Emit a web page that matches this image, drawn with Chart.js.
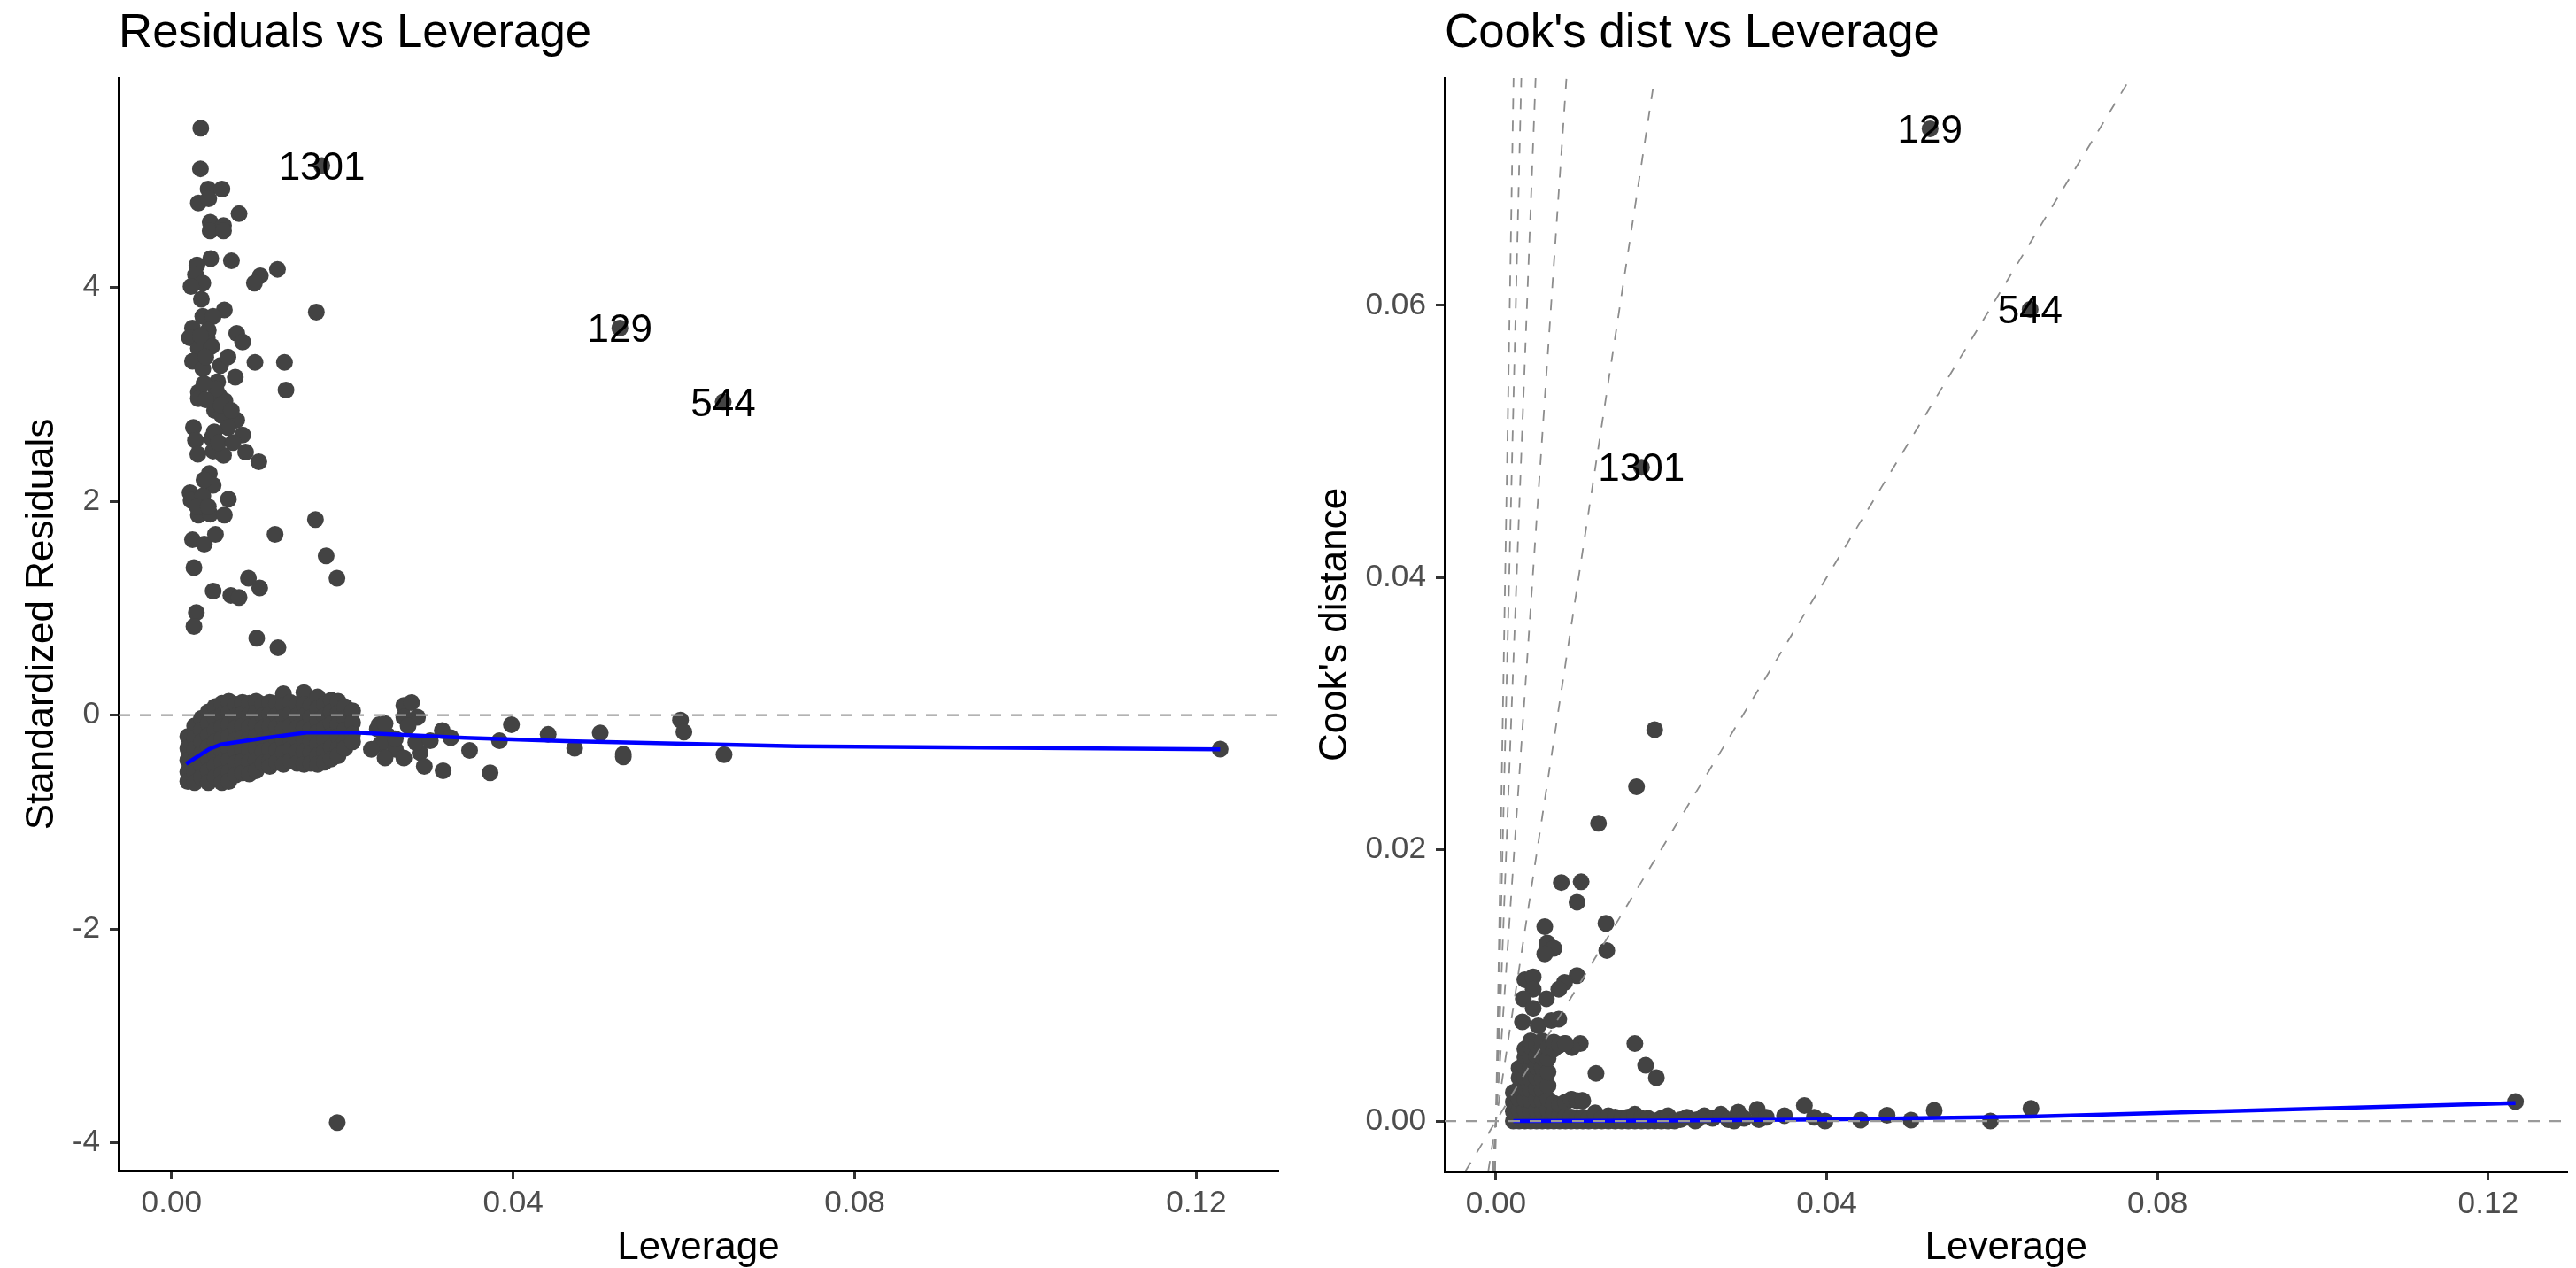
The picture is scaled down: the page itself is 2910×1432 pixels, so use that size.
<!DOCTYPE html>
<html>
<head>
<meta charset="utf-8">
<script src="https://cdn.jsdelivr.net/npm/chart.js@4.4.1/dist/chart.umd.min.js"></script>
<style>
html,body{margin:0;padding:0;background:#ffffff;overflow:hidden;}
#wrap{position:relative;width:2910px;height:1432px;background:#ffffff;}
.panel{position:absolute;top:0;width:1455px;height:1432px;}
#p1{left:0;}
#p2{left:1455px;}
canvas{display:block;}
</style>
</head>
<body>
<div id="wrap">
  <div class="panel" id="p1"><canvas id="c1" width="1455" height="1432"></canvas></div>
  <div class="panel" id="p2"><canvas id="c2" width="1455" height="1432"></canvas></div>
</div>
<script>
// ---------------- axis ranges & ticks ----------------
const levRange = [-0.0062, 0.1296];
const resRange = [-4.26, 5.96];
const cookRange = [-0.00371, 0.07674];
const levTicks = [0, 0.04, 0.08, 0.12];
const levTickLabels = ['0.00', '0.04', '0.08', '0.12'];
const resTicks = [-4, -2, 0, 2, 4];
const resTickLabels = ['-4', '-2', '0', '2', '4'];
const cookTicks = [0, 0.02, 0.04, 0.06];
const cookTickLabels = ['0.00', '0.02', '0.04', '0.06'];

// ---------------- labelled observations ----------------
const labelIds = ['1301', '129', '544'];
const labelLev = [0.0176, 0.0525, 0.0646];
const labelRes = [5.14, 3.62, 2.93];
const labelCook = [0.0481, 0.0730, 0.0597];

// ---------------- left panel: standardized residuals ----------------
const resHigh = [
 [0.00342,5.49],[0.00338,5.11],[0.00428,4.92],[0.0059,4.92],[0.00314,4.79],[0.00435,4.83],[0.0079,4.69],
 [0.00452,4.61],[0.00452,4.53],[0.00608,4.58],[0.00608,4.53],[0.00459,4.27],[0.00701,4.25],[0.00297,4.21],
 [0.0028,4.12],[0.00366,4.04],[0.00228,4.01],[0.01039,4.11],[0.0097,4.04],[0.0124,4.17],[0.00349,3.89],
 [0.01695,3.77],[0.00618,3.79],[0.00366,3.73],[0.00487,3.73],[0.00245,3.62],[0.0021,3.53],[0.00417,3.53],
 [0.00763,3.57],[0.00832,3.49],[0.00314,3.43],[0.00469,3.45],[0.00245,3.31],[0.00366,3.24],[0.00573,3.27],
 [0.0066,3.35],[0.00977,3.30],[0.01322,3.30],[0.00746,3.16],[0.00539,3.12],[0.00314,3.02],[0.00314,2.96],
 [0.0134,3.04],[0.00556,2.99],[0.00625,2.94],[0.00504,2.85],[0.0059,2.80],[0.00763,2.76],[0.0066,2.69],
 [0.00256,2.69],[0.00832,2.62],[0.0028,2.57],[0.00469,2.59],[0.00308,2.44],[0.00487,2.47],[0.00608,2.43],
 [0.00867,2.46],[0.01022,2.37],[0.00442,2.26],[0.00487,2.15],[0.00217,2.08],[0.00228,2.01],[0.00366,2.05],
 [0.00666,2.02],[0.00314,1.87],[0.00452,1.88],[0.00618,1.87],[0.01685,1.83],[0.00245,1.64],[0.00383,1.60],
 [0.00514,1.69],[0.01212,1.69],[0.0181,1.49],[0.01937,1.28],[0.00262,1.38],[0.00487,1.16],[0.00694,1.12],
 [0.0079,1.10],[0.009,1.28],[0.01032,1.19],[0.0029,0.96],[0.00262,0.83],[0.00997,0.72],[0.01246,0.63],
 [0.0040,3.35],[0.0052,3.05],[0.0058,2.90],[0.0050,2.65],[0.0043,3.60],[0.0034,3.55],[0.0055,2.55],
 [0.0072,2.55],[0.0070,2.85],[0.0040,2.95],[0.0038,2.20],[0.0030,1.95],[0.0043,1.95],[0.0038,3.10]
];
const blobLev = [0.0019,0.0027,0.0035,0.0043,0.0051,0.0059,0.0067,0.0075,0.0083,0.0091,0.0099,0.0107,0.0115,
                 0.0123,0.0131,0.0139,0.0147,0.0155,0.0163,0.0171,0.0179,0.0187,0.0195,0.0203,0.0212];
const blobRes = [
 [-0.20,-0.31,-0.42,-0.53,-0.62],
 [-0.10,-0.21,-0.32,-0.43,-0.54,-0.63],
 [-0.03,-0.14,-0.25,-0.36,-0.47,-0.58],
 [0.03,-0.08,-0.19,-0.30,-0.41,-0.52,-0.63],
 [0.08,-0.03,-0.14,-0.25,-0.36,-0.47,-0.58],
 [0.11,0.00,-0.11,-0.22,-0.33,-0.44,-0.55,-0.63],
 [0.13,0.02,-0.09,-0.20,-0.31,-0.42,-0.53,-0.62],
 [0.10,-0.01,-0.12,-0.23,-0.34,-0.45,-0.56],
 [0.12,0.01,-0.10,-0.21,-0.32,-0.43,-0.54],
 [0.11,0.00,-0.11,-0.22,-0.33,-0.44,-0.55],
 [0.13,0.02,-0.09,-0.20,-0.31,-0.42,-0.52],
 [0.10,-0.01,-0.12,-0.23,-0.34,-0.45],
 [0.12,0.01,-0.10,-0.21,-0.32,-0.43,-0.48],
 [0.11,0.00,-0.11,-0.22,-0.33,-0.44],
 [0.20,0.09,-0.02,-0.13,-0.24,-0.35,-0.46],
 [0.12,0.01,-0.10,-0.21,-0.32,-0.43],
 [0.10,-0.01,-0.12,-0.23,-0.34,-0.45],
 [0.21,0.10,-0.01,-0.12,-0.23,-0.34,-0.46],
 [0.09,-0.02,-0.13,-0.24,-0.35,-0.45],
 [0.17,0.06,-0.05,-0.16,-0.27,-0.38,-0.46],
 [0.10,-0.01,-0.12,-0.23,-0.34,-0.44],
 [0.14,0.03,-0.08,-0.19,-0.30,-0.41],
 [0.13,0.02,-0.09,-0.20,-0.31,-0.38],
 [0.08,-0.03,-0.14,-0.25,-0.31],
 [0.04,-0.07,-0.18,-0.25]
];
const resTail = [
 [0.0241,-0.13],[0.0253,-0.19],[0.0245,-0.27],[0.0262,-0.32],[0.0262,-0.22],[0.0243,-0.089],[0.0272,0.09],
 [0.0281,0.118],[0.0288,-0.02],[0.0272,-0.02],[0.025,-0.08],[0.0277,-0.1],[0.0234,-0.32],[0.025,-0.40],
 [0.0272,-0.40],[0.0291,-0.35],[0.0296,-0.48],[0.0286,-0.255],[0.0303,-0.24],[0.0317,-0.144],[0.0327,-0.21],
 [0.0318,-0.52],[0.0349,-0.33],[0.0373,-0.54],[0.0384,-0.24],[0.0398,-0.089],[0.0441,-0.18],[0.0472,-0.31],
 [0.0502,-0.166],[0.0529,-0.365],[0.0529,-0.39],[0.0596,-0.047],[0.06,-0.158],[0.0647,-0.37],[0.1228,-0.317],
 [0.0194,-3.81]
];
const resSmooth = [[0.0017,-0.456],[0.0044,-0.318],[0.0058,-0.274],[0.0105,-0.219],[0.0158,-0.163],[0.0215,-0.163],
 [0.0343,-0.213],[0.0462,-0.243],[0.0732,-0.29],[0.1228,-0.32]];

// ---------------- right panel: Cook's distance ----------------
const cookHigh = [
 [0.0192,0.0288],[0.0170,0.0246],[0.0124,0.0219],[0.0079,0.01755],[0.0103,0.0176],[0.0098,0.0161],
 [0.0059,0.0143],[0.0133,0.01455],[0.0062,0.0131],[0.0070,0.0127],[0.0059,0.0123],[0.0134,0.01255],
 [0.0098,0.0107],[0.0083,0.0102],[0.0076,0.0097],[0.0035,0.0104],[0.0045,0.0106],[0.0061,0.0090],
 [0.0045,0.0097],[0.0033,0.0090],[0.0045,0.0083],[0.0032,0.0073],[0.0051,0.0070],[0.0067,0.0074],
 [0.0076,0.0075],[0.0102,0.0057],[0.0168,0.0057],[0.0181,0.0041],[0.0194,0.0032],[0.0121,0.0035],
 [0.0083,0.0057],[0.0074,0.0055],[0.0092,0.0054],[0.0092,0.00158],[0.0104,0.00152],[0.0074,0.00115]
];
const cookBlobLev = [0.0021,0.0028,0.0035,0.0042,0.0049,0.0056,0.0063,0.0070,0.0077,0.0084,0.0091,0.0098,0.0105,
                     0.0112,0.0120,0.0128,0.0136,0.0144,0.0152,0.0160,0.0168,0.0176,0.0184,0.0192,0.0200,0.0208,0.0216];
const cookBlobVal = [
 [0.0000,0.0007,0.0014,0.0021],
 [0.0000,0.0008,0.0016,0.0024,0.0032,0.0039],
 [0.0000,0.0008,0.0016,0.0024,0.0032,0.0040,0.0047,0.0053],
 [0.0000,0.0007,0.0015,0.0023,0.0031,0.0039,0.0047,0.0055,0.0059],
 [0.0000,0.0008,0.0016,0.0024,0.0032,0.0040,0.0048,0.0056],
 [0.0000,0.0007,0.0015,0.0023,0.0031,0.0039,0.0047,0.0055,0.0059],
 [0.0000,0.0008,0.0016,0.0026,0.0036,0.0046,0.0054],
 [0.0000,0.0006,0.0013,0.0053,0.0058],
 [0.0000,0.0004,0.0012,0.0056],
 [0.0000,0.0003,0.0014,0.0057],
 [0.0000,0.0003,0.0016],
 [0.0000,0.0002,0.0015],
 [0.0000,0.0003,0.0015],
 [0.0000,0.0002],
 [0.0000,0.0006],
 [0.0000,0.0002],
 [0.0000,0.0004],
 [0.0000,0.0003],
 [0.0000,0.0002],
 [0.0000,0.0003],
 [0.0000,0.0005],
 [0.0000,0.0002],
 [0.0000,0.0002],
 [0.0000],
 [0.0000,0.0002],
 [0.0000,0.0004],
 [0.0000]
];
const cookTail = [
 [0.0223,0.0001],[0.0231,0.00028],[0.0241,0.0000],[0.0243,0.0001],[0.0252,0.0004],[0.0262,0.0002],
 [0.0272,0.0005],[0.0281,0.0001],[0.0288,0.0000],[0.0293,0.00065],[0.0300,0.0002],[0.0316,0.00087],
 [0.0318,0.0001],[0.0327,0.00028],[0.0349,0.0004],[0.0373,0.00115],[0.0385,0.00028],[0.0398,0.0],
 [0.0441,0.00007],[0.0473,0.00043],[0.0502,0.00007],[0.053,0.00078],[0.0598,0.0],[0.0647,0.00093],
 [0.1233,0.00143]
];
const cookSmooth = [[0.0021,0.0000],[0.02,0.00003],[0.04,0.00012],[0.0647,0.00033],[0.1233,0.00132]];
const cookSlopes = [1, 4, 9, 16, 25, 36];

// ---------------- helpers ----------------
const FONT = '"Liberation Sans", Arial, Helvetica, sans-serif';
const POINT_COLOR = '#434343';
const toXY = arr => arr.map(p => ({x: p[0], y: p[1]}));
function columnsToXY(levs, cols) {
  const out = [];
  levs.forEach((l, i) => cols[i].forEach(v => out.push({x: l, y: v})));
  return out;
}
function pointSet(points) {
  return {type: 'scatter', data: points, pointRadius: 9.5, pointHoverRadius: 9.5, pointBorderWidth: 0,
          backgroundColor: POINT_COLOR, borderColor: POINT_COLOR, pointStyle: 'circle', order: 3};
}
function lineSet(points, color, width, dash, order) {
  return {type: 'scatter', data: points, showLine: true, pointRadius: 0, pointHoverRadius: 0,
          borderColor: color, backgroundColor: color, borderWidth: width, borderDash: dash || [],
          tension: 0, fill: false, order: order};
}
function axis(range, ticks, labels, fit, isX, pad) {
  return {
    type: 'linear', position: isX ? 'bottom' : 'left', min: range[0], max: range[1], bounds: 'data',
    afterBuildTicks: s => { s.ticks = ticks.map(v => ({value: v})); },
    afterFit: s => { if (isX) s.height = fit; else s.width = fit; },
    ticks: {
      autoSkip: false, maxRotation: 0, minRotation: 0, padding: pad,
      color: '#4d4d4d', font: {family: FONT, size: 35.2},
      callback: v => { const i = ticks.findIndex(t => Math.abs(t - v) < 1e-9); return i >= 0 ? labels[i] : ''; }
    },
    grid: {display: true, drawOnChartArea: false, drawTicks: true, tickLength: 10, tickWidth: 3,
           tickColor: '#333333', color: '#333333'},
    border: {display: true, color: '#000000', width: 3},
    title: {display: false}
  };
}
function textPlugin(cfg) {
  return {
    id: 'texts',
    afterDatasetsDraw(chart) {
      const ctx = chart.ctx, a = chart.chartArea;
      const xs = chart.scales.x, ys = chart.scales.y;
      ctx.save();
      ctx.fillStyle = '#000000';
      ctx.textBaseline = 'alphabetic';
      ctx.font = '52.8px ' + FONT;
      ctx.textAlign = 'left';
      ctx.fillText(cfg.title, a.left, 53);
      ctx.font = '44px ' + FONT;
      ctx.textAlign = 'center';
      ctx.fillText(cfg.xTitle, (a.left + a.right) / 2, 1422);
      ctx.save();
      ctx.translate(cfg.yTitleX, (a.top + a.bottom) / 2);
      ctx.rotate(-Math.PI / 2);
      ctx.fillText(cfg.yTitle, 0, 0);
      ctx.restore();
      ctx.font = '44px ' + FONT;
      ctx.textAlign = 'center';
      cfg.labelIds.forEach((id, i) => {
        const px = xs.getPixelForValue(cfg.labelX[i]);
        const py = ys.getPixelForValue(cfg.labelY[i]);
        ctx.fillText(id, px, py + 0.358 * 44);
      });
      ctx.restore();
    }
  };
}
function makeChart(id, datasets, xAxis, yAxis, padding, text) {
  return new Chart(document.getElementById(id), {
    type: 'scatter',
    data: {datasets: datasets},
    options: {
      responsive: false, maintainAspectRatio: false, animation: false, devicePixelRatio: 1, events: [],
      layout: {padding: padding},
      plugins: {legend: {display: false}, tooltip: {enabled: false}, title: {display: false}},
      scales: {x: xAxis, y: yAxis}
    },
    plugins: [textPlugin(text)]
  });
}

// ---------------- left chart ----------------
const leftPoints = [].concat(
  toXY(resHigh), columnsToXY(blobLev, blobRes), toXY(resTail),
  labelLev.map((l, i) => ({x: l, y: labelRes[i]}))
);
makeChart('c1', [
  lineSet([{x: levRange[0], y: 0}, {x: levRange[1], y: 0}], '#9a9a9a', 2.2, [13, 11], 0),
  lineSet(toXY(resSmooth), '#0000ff', 4.5, null, 1),
  pointSet(leftPoints)
],
axis(levRange, levTicks, levTickLabels, 110, true, 6),
axis(resRange, resTicks, resTickLabels, 134, false, 11),
{left: 0, top: 88, right: 11, bottom: 0},
{title: 'Residuals vs Leverage', xTitle: 'Leverage', yTitle: 'Standardized Residuals', yTitleX: 60,
 labelIds: labelIds, labelX: labelLev, labelY: labelRes});

// ---------------- right chart ----------------
const rightPoints = [].concat(
  toXY(cookHigh), columnsToXY(cookBlobLev, cookBlobVal), toXY(cookTail),
  labelLev.map((l, i) => ({x: l, y: labelCook[i]}))
);
const slopeSets = cookSlopes.map(k => {
  const x0 = Math.max(levRange[0], cookRange[0] / k);
  const x1 = Math.min(levRange[1], cookRange[1] / k);
  return lineSet([{x: x0, y: k * x0}, {x: x1, y: k * x1}], '#8c8c8c', 1.8, [12, 13], 0);
});
makeChart('c2', [
  lineSet([{x: levRange[0], y: 0}, {x: levRange[1], y: 0}], '#9a9a9a', 2.2, [13, 11], 0),
  ...slopeSets,
  lineSet(toXY(cookSmooth), '#0000ff', 4.5, null, 1),
  pointSet(rightPoints)
],
axis(levRange, levTicks, levTickLabels, 109, true, 6),
axis(cookRange, cookTicks, cookTickLabels, 177, false, 11),
{left: 0, top: 88, right: 6, bottom: 0},
{title: "Cook's dist vs Leverage", xTitle: 'Leverage', yTitle: "Cook's distance", yTitleX: 66,
 labelIds: labelIds, labelX: labelLev, labelY: labelCook});
</script>
</body>
</html>
